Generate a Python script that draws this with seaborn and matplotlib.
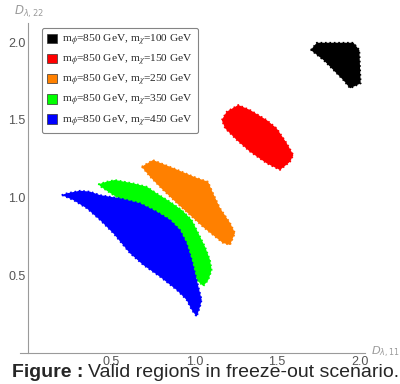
import matplotlib
matplotlib.use("Agg")
import matplotlib.pyplot as plt
from matplotlib.patches import Patch
from matplotlib.ticker import MultipleLocator
import seaborn as sns

# outlines of the valid regions (D_lambda,11 , D_lambda,22)
black_x = [1.703, 1.739, 1.960, 1.996, 2.004, 1.940, 1.899, 1.839, 1.779]
black_y = [1.949, 1.996, 1.996, 1.949, 1.735, 1.703, 1.756, 1.821, 1.885]

red_x = [1.166, 1.196, 1.266, 1.336, 1.437, 1.497, 1.558, 1.598, 1.578, 1.517, 1.437, 1.336, 1.256, 1.186]
red_y = [1.499, 1.553, 1.596, 1.564, 1.499, 1.446, 1.350, 1.274, 1.231, 1.178, 1.221, 1.296, 1.371, 1.446]

orange_x = [0.683, 0.751, 0.872, 1.015, 1.083, 1.113, 1.155, 1.216, 1.246, 1.216, 1.173, 1.113, 1.053, 0.974,
            0.894, 0.811, 0.733]
orange_y = [1.199, 1.242, 1.191, 1.127, 1.103, 1.030, 0.934, 0.838, 0.773, 0.696, 0.709, 0.760, 0.812, 0.889,
            0.966, 1.050, 1.135]

green_x = [0.421, 0.472, 0.522, 0.632, 0.713, 0.773, 0.854, 0.924, 0.985, 1.025, 1.065, 1.095, 1.105, 1.085,
           1.055, 1.025, 0.994, 0.954, 0.894, 0.813, 0.713, 0.612, 0.512, 0.441]
green_y = [1.086, 1.103, 1.114, 1.092, 1.071, 1.028, 0.974, 0.921, 0.857, 0.771, 0.685, 0.600, 0.535, 0.471,
           0.432, 0.460, 0.514, 0.600, 0.685, 0.792, 0.878, 0.953, 1.017, 1.067]

blue_x = [0.200, 0.230, 0.311, 0.371, 0.431, 0.552, 0.673, 0.773, 0.854, 0.914, 0.954, 0.985, 1.015, 1.045,
          1.035, 1.015, 0.985, 0.954, 0.894, 0.793, 0.693, 0.612, 0.512, 0.431, 0.351, 0.270]
blue_y = [1.017, 1.028, 1.045, 1.039, 1.017, 0.996, 0.964, 0.910, 0.857, 0.792, 0.707, 0.600, 0.471, 0.343,
          0.300, 0.235, 0.278, 0.343, 0.407, 0.492, 0.567, 0.643, 0.771, 0.857, 0.932, 0.985]

m_chi = [100, 150, 250, 350, 450]
colors = ["#000000", "#ff0000", "#ff8000", "#00ff00", "#0000ff"]

sns.set_style("white")
plt.rcParams["font.family"] = ["Liberation Sans", "DejaVu Sans"]
plt.rcParams["mathtext.fontset"] = "dejavusans"

fig = plt.figure(figsize=(4, 3.84), dpi=100)
ax = fig.add_axes([0.0505, 0.08, 0.862, 0.859])

regions = [(black_x, black_y), (red_x, red_y), (orange_x, orange_y), (green_x, green_y), (blue_x, blue_y)]
for (xs, ys), c in zip(regions, colors):
    ax.fill(xs, ys, facecolor=c, edgecolor=c, lw=1.2, ls=":", zorder=2)

ax.set_xlim(-0.05, 2.03)
ax.set_ylim(0, 2.12)

gray = "#9a9a9a"
for s in ["top", "right"]:
    ax.spines[s].set_visible(False)
ax.spines["left"].set_position(("data", 0))
ax.spines["bottom"].set_position(("data", 0))
ax.spines["left"].set_color(gray)
ax.spines["bottom"].set_color(gray)
ax.spines["left"].set_bounds(0, 2.12)

ax.xaxis.set_minor_locator(MultipleLocator(0.1))
ax.yaxis.set_minor_locator(MultipleLocator(0.1))
ax.set_xticks([0.5, 1.0, 1.5, 2.0])
ax.set_yticks([0.5, 1.0, 1.5, 2.0])
ax.set_xticklabels(["0.5", "1.0", "1.5", "2.0"])
ax.set_yticklabels(["0.5", "1.0", "1.5", "2.0"])
ax.tick_params(which="major", direction="in", length=4, width=0.8, color=gray,
               labelsize=9, labelcolor="#555555", pad=2)
ax.tick_params(which="minor", direction="in", length=2.5, width=0.6, color=gray)

fig.text(371 / 400, 1 - 352 / 384, r"$D_{\lambda,11}$", color=gray, fontsize=8.2, ha="left", va="center")
fig.text(14 / 400, 1 - 12 / 384, r"$D_{\lambda,22}$", color=gray, fontsize=8.5, ha="left", va="center")

labels = [r"m$_\phi$=850 GeV, m$_\chi$=%d GeV" % m for m in m_chi]
handles = [Patch(facecolor=c, edgecolor="#333333", lw=0.5) for c in colors]
leg = fig.legend(handles, labels, loc="upper left", bbox_to_anchor=(42 / 400, 1 - 28 / 384),
                 bbox_transform=fig.transFigure, borderaxespad=0, frameon=True, fancybox=True,
                 handlelength=0.9, handleheight=0.9, handletextpad=0.5, labelspacing=0.45,
                 borderpad=0.4, prop={"family": "Liberation Serif", "size": 8.2})
leg.get_frame().set_edgecolor("#666666")
leg.get_frame().set_linewidth(0.8)
for t in leg.get_texts():
    t.set_math_fontfamily("stix")

fig.text(12 / 400, 1 - 377 / 384, "Figure :", fontsize=14, fontweight="bold", va="baseline")
fig.text(88 / 400, 1 - 377 / 384, "Valid regions in freeze-out scenario.", fontsize=14, va="baseline")

fig.savefig("out.png", dpi=100)
